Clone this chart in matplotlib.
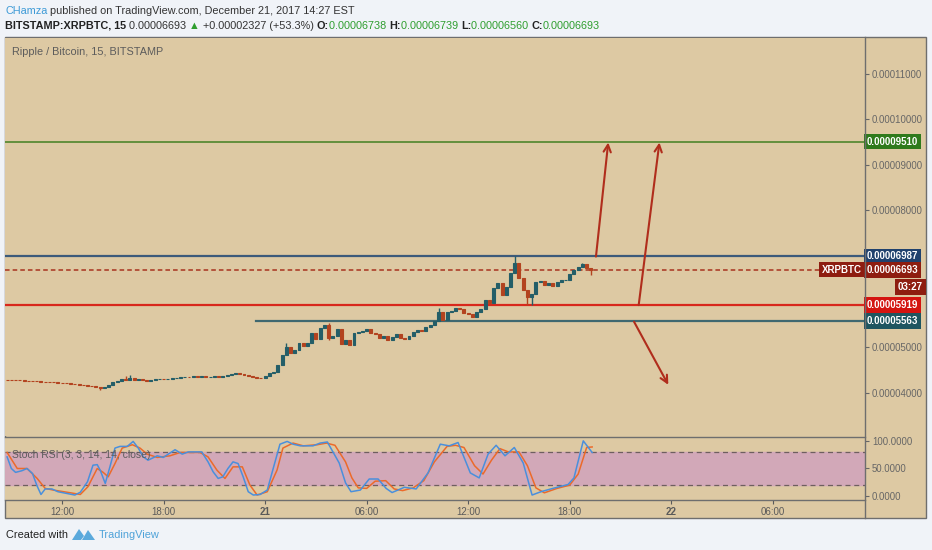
import matplotlib
matplotlib.use("Agg")
import matplotlib.pyplot as plt
from matplotlib.patches import Rectangle, Polygon
from matplotlib.lines import Line2D

plt.rcParams['font.family'] = ['Liberation Sans', 'DejaVu Sans']

# closes of the 15 min bars (satoshi), first bar Dec 20 08:45, open = previous close
closes = [
    4276, 4270, 4268, 4265, 4262, 4258, 4255, 4250, 4240, 4235, 4230, 4222,
    4215, 4210, 4200, 4190, 4180, 4172, 4160, 4150, 4140, 4128, 4110, 4118,
    4170, 4230, 4250, 4290, 4270, 4320, 4280, 4300, 4270, 4250, 4270, 4290,
    4300, 4295, 4305, 4320, 4330, 4340, 4350, 4345, 4355, 4350, 4360, 4340,
    4350, 4360, 4350, 4370, 4380, 4400, 4430, 4410, 4380, 4360, 4340, 4330, 4320,
    4365, 4420, 4460, 4605, 4825, 5000, 4865, 4930, 5085, 5020, 5085, 5300,
    5175, 5410, 5480, 5195, 5250, 5390, 5065, 5150, 5045, 5305, 5325, 5350,
    5405, 5305, 5290, 5195, 5240, 5150, 5220, 5295, 5195, 5170, 5240, 5330,
    5370, 5350, 5440, 5480, 5580, 5770, 5590, 5775, 5800, 5855, 5835, 5745,
    5725, 5665, 5775, 5835, 6030, 5975, 6290, 6400, 6140, 6325, 6630, 6850,
    6510, 6250, 6105, 6165, 6435, 6440, 6360, 6415, 6340, 6435, 6470, 6475,
    6605, 6690, 6760, 6820, 6725, 6693,
]
first_open = 4280
wick_hi = {28: 4370, 29: 4385, 66: 5090, 76: 5530, 102: 5860, 120: 6987, 136: 6850}
wick_lo = {22: 4060, 76: 5150, 123: 5920, 124: 5920, 138: 6590}

# horizontal levels
level_tp = 9510
level_res = 6987
level_last = 6693
level_sup1 = 5919
level_sup2 = 5563
sup2_start = 58.9

# drawn arrows (bar, price) -> (bar, price)
arrows = [((139.2, 6985), (142.1, 9490)),
          ((149.3, 5920), (154.2, 9490)),
          ((148.2, 5555), (156.3, 4170))]

price_ticks = [4000, 5000, 6000, 7000, 8000, 9000, 10000, 11000]
hidden_ticks = [6000, 7000]  # covered by the level boxes
time_ticks = [13, 37, 61, 85, 109, 133, 157, 181]
time_labels = ['12:00', '18:00', '21', '06:00', '12:00', '18:00', '22', '06:00']

# stoch rsi samples (bar, value)
k_bar = [0, 1, 2, 3.5, 4.7, 6, 7, 8, 9, 10.6, 12, 14, 16, 17.3, 19, 20.3, 21.3, 22,
         23.2, 24.3, 25.5, 26.7, 28.4, 29.8, 31, 32.2, 33.3, 35.5, 36.9, 38.5, 39.7,
         41.4, 42.8, 44, 46, 47.5, 48.7, 49.9, 51, 52.2, 53.4, 54.6, 55.8, 57, 58.2,
         59.8, 61.5, 62.9, 64.5, 66.2, 67.6, 69.3, 72.3, 74, 75.7, 78.5, 80, 81.3,
         83.5, 85.6, 87.7, 89.6, 91, 93.9, 96.7, 99.5, 102.4, 104.5, 106.6, 109.5,
         111.6, 113.7, 115.6, 117.7, 119.9, 122, 124.1, 126.2, 129, 132.6, 134,
         136.2, 138.3]
k_val = [71, 50, 43, 46, 50, 41, 20, 3, 13, 13, 8, 5, 2, 7, 26, 56, 57, 47,
         23, 53, 87, 90, 90, 99, 87, 71, 65, 73, 70, 78, 84,
         76, 80, 80, 80, 62, 44, 32, 35, 50, 62, 59, 35, 8, 2,
         3, 11, 50, 94, 99, 94, 91, 91, 96, 98, 60, 24, 8,
         11, 31, 31, 14, 6.5, 16, 13, 42, 94, 91, 97, 42,
         33, 76, 92, 73, 88, 60, 2, 8, 14, 21, 33,
         100, 79]
d_bar = [0, 2.4, 4.7, 7.1, 9, 10.9, 14.2, 17.3, 19.1, 21.3, 22.7, 23.9, 25.5, 27.2,
         29.6, 31.4, 33.1, 35.5, 38.5, 40.9, 45.6, 47.5, 49.6, 51.5, 53.4, 55.6, 57.4,
         59.1, 61.5, 63.8, 65.2, 67.6, 70, 73.3, 75.5, 77.5, 80, 81.5, 83, 85, 87,
         89.5, 91.5, 93.5, 96, 98.5, 101, 104, 106, 108, 110.5, 112.5, 114.5, 116.5,
         118.5, 121, 123, 125, 127, 130, 133, 135, 137, 138.3]
d_val = [79, 50, 50, 32, 14, 11, 7, 3, 17, 50, 43, 35, 59, 87,
         93, 87, 76, 70, 73, 79, 79, 71, 47, 32, 53, 53, 20,
         2, 8, 47, 87, 96, 91, 93, 96, 92, 62, 33, 15, 14, 27,
         28, 13, 10, 15, 28, 62, 90, 92, 88, 55, 40, 65, 86,
         80, 80, 55, 15, 6, 14, 20, 40, 88, 89]

W, H = 932, 550
BG = '#ddc9a3'
UP = '#245e68'
DN = '#b3431f'
FRAME = '#6e6e6e'


def fx(x):
    return x / W


def fy(y):
    return 1 - y / H


fig = plt.figure(figsize=(W / 100, H / 100), dpi=100)
fig.patch.set_facecolor('#f0f3f8')

# chart panel background and frame
fig.patches.append(Rectangle((fx(5), fy(518)), fx(921), 481 / H, transform=fig.transFigure,
                             facecolor=BG, edgecolor=FRAME, linewidth=1.0, zorder=-10))

ax = fig.add_axes([fx(5), fy(436), fx(860), 398 / H])
rs = fig.add_axes([fx(5), fy(500), fx(860), 63 / H], sharex=ax)
for a in (ax, rs):
    a.set_facecolor(BG)
    for s in a.spines.values():
        s.set_visible(False)

# separators
for xs, ys in [((865, 865), (37, 518)), ((5, 865), (436.5, 436.5)), ((5, 865), (500, 500))]:
    fig.lines.append(Line2D([fx(v) for v in xs], [fy(v) for v in ys],
                            transform=fig.transFigure, color=FRAME, lw=1.0, zorder=5))

# candles
opens = [first_open] + closes[:-1]
for i, (o, c) in enumerate(zip(opens, closes)):
    col = UP if c >= o else DN
    lo_b, hi_b = min(o, c), max(o, c)
    hi = wick_hi.get(i, hi_b)
    lo = wick_lo.get(i, lo_b)
    if hi > lo:
        ax.vlines(i, lo, hi, color=col, lw=1.0, zorder=3)
    ax.bar(i, hi_b - lo_b, bottom=lo_b, width=0.7, color=col, edgecolor=col,
           linewidth=0.8, zorder=4)

ax.set_xlim(-0.5, 202.8)
ax.set_ylim(3046, 11784)

# levels
ax.axhline(level_tp, color='#5a8a35', lw=1.3, zorder=2)
ax.axhline(level_res, color='#3c5a7a', lw=1.6, zorder=2)
ax.axhline(level_last, color='#a8321f', lw=1.1, ls=(0, (3, 2)), zorder=2)
ax.axhline(level_sup1, color='#d8281c', lw=1.6, zorder=2)
ax.plot([sup2_start, 202.8], [level_sup2, level_sup2], color='#3f6870', lw=1.6, zorder=2)

for (x0, y0), (x1, y1) in arrows:
    ax.annotate('', xy=(x1, y1), xytext=(x0, y0),
                arrowprops=dict(arrowstyle='->', color='#b02d1c', lw=1.5,
                                mutation_scale=13, shrinkA=0, shrinkB=0), zorder=6)

ax.yaxis.tick_right()
ax.set_yticks(price_ticks)
ax.set_yticklabels(['' if v in hidden_ticks else f"{v * 1e-8:.8f}" for v in price_ticks])
ax.tick_params(axis='y', colors='#666666', labelsize=6.9, length=3, width=0.8, pad=2)
ax.tick_params(axis='x', bottom=False, labelbottom=False)

ax.text(0.008, 0.965, 'Ripple / Bitcoin, 15, BITSTAMP', transform=ax.transAxes,
        fontsize=7.8, color='#5c5c5c', va='center', ha='left')

# price boxes on the scale
boxes = [(level_tp, '#2f7a1c'), (level_res, '#1f416d'), (level_last, '#8e1d10'),
         (level_sup1, '#d41410'), (level_sup2, '#1e5560')]
for v, col in boxes:
    ax.text(1.0018, v, f"{v * 1e-8:.8f}", transform=ax.get_yaxis_transform(),
            fontsize=7.0, fontweight='bold', color='white', va='center', ha='left',
            bbox=dict(boxstyle='square,pad=0.3', facecolor=col, edgecolor='none'),
            zorder=10, clip_on=False)
ax.text(0.9965, level_last, 'XRPBTC', transform=ax.get_yaxis_transform(),
        fontsize=7.0, fontweight='bold', color='white', va='center', ha='right',
        bbox=dict(boxstyle='square,pad=0.26', facecolor='#8e1d10', edgecolor='none'), zorder=10)
fig.text(fx(923), fy(287), '03:27', fontsize=7.0, fontweight='bold', color='white',
         va='center', ha='right',
         bbox=dict(boxstyle='square,pad=0.26', facecolor='#8e1d10', edgecolor='none'))

# stoch rsi pane
rs.axhspan(20, 80, color='#d2a8b8', zorder=1)
rs.axhline(80, color='#6e5f5f', lw=0.9, ls=(0, (4, 3)), zorder=2)
rs.axhline(20, color='#6e5f5f', lw=0.9, ls=(0, (4, 3)), zorder=2)
rs.plot(d_bar, d_val, color='#ec6a2a', lw=1.1, zorder=3)
rs.plot(k_bar, k_val, color='#4a8fdc', lw=1.1, zorder=4)
rs.set_ylim(-7, 107)
rs.yaxis.tick_right()
rs.set_yticks([0, 50, 100])
rs.set_yticklabels(['0.0000', '50.0000', '100.0000'])
rs.tick_params(axis='y', colors='#666666', labelsize=6.9, length=3, width=0.8, pad=2)
rs.set_xticks(time_ticks)
rs.set_xticklabels(time_labels)
rs.tick_params(axis='x', colors='#5a5a5a', labelsize=7.0, length=3, width=0.8, pad=2,
               direction='out')
for lab in rs.get_xticklabels():
    if lab.get_text() in ('21', '22'):
        lab.set_fontweight('bold')
rs.text(0.008, 0.72, 'Stoch RSI (3, 3, 14, 14, close)', transform=rs.transAxes,
        fontsize=7.5, color='#5c5c5c', va='center', ha='left', zorder=5)

# header, pieces placed one after another
renderer = fig.canvas.get_renderer()
GREEN = '#2f9e2f'
HFS = 7.8


def text_row(y, pieces, x0=5):
    x = x0
    for s, col, wt in pieces:
        t = fig.text(fx(x), fy(y), s, fontsize=HFS, color=col, fontweight=wt, va='center')
        x = t.get_window_extent(renderer).x1


text_row(11, [('CHamza', '#3d9ad6', 'normal'),
              (' published on TradingView.com, December 21, 2017 14:27 EST', '#333333', 'normal')])
text_row(26, [('BITSTAMP:XRPBTC, 15 ', '#222222', 'bold'),
              ('0.00006693 ', '#333333', 'normal'),
              ('\u25b2', GREEN, 'normal'),
              (' +0.00002327 (+53.3%) ', '#333333', 'normal'),
              ('O:', '#222222', 'bold'), ('0.00006738 ', GREEN, 'normal'),
              ('H:', '#222222', 'bold'), ('0.00006739 ', GREEN, 'normal'),
              ('L:', '#222222', 'bold'), ('0.00006560 ', GREEN, 'normal'),
              ('C:', '#222222', 'bold'), ('0.00006693', GREEN, 'normal')])

# footer
fig.text(fx(6), fy(535), 'Created with', fontsize=7.9, color='#222222', va='center')
logo1 = [(72, 540), (79, 529), (84, 536), (81, 540)]
logo2 = [(82, 540), (88, 530), (95, 540)]
for pts in (logo1, logo2):
    fig.patches.append(Polygon([(fx(a), fy(b)) for a, b in pts], closed=True,
                               transform=fig.transFigure, facecolor='#5aa9dc',
                               edgecolor='none'))
fig.text(fx(99), fy(535), 'TradingView', fontsize=7.9, color='#4fa3d9', va='center')

fig.savefig('out.png', dpi=100, facecolor=fig.get_facecolor())
